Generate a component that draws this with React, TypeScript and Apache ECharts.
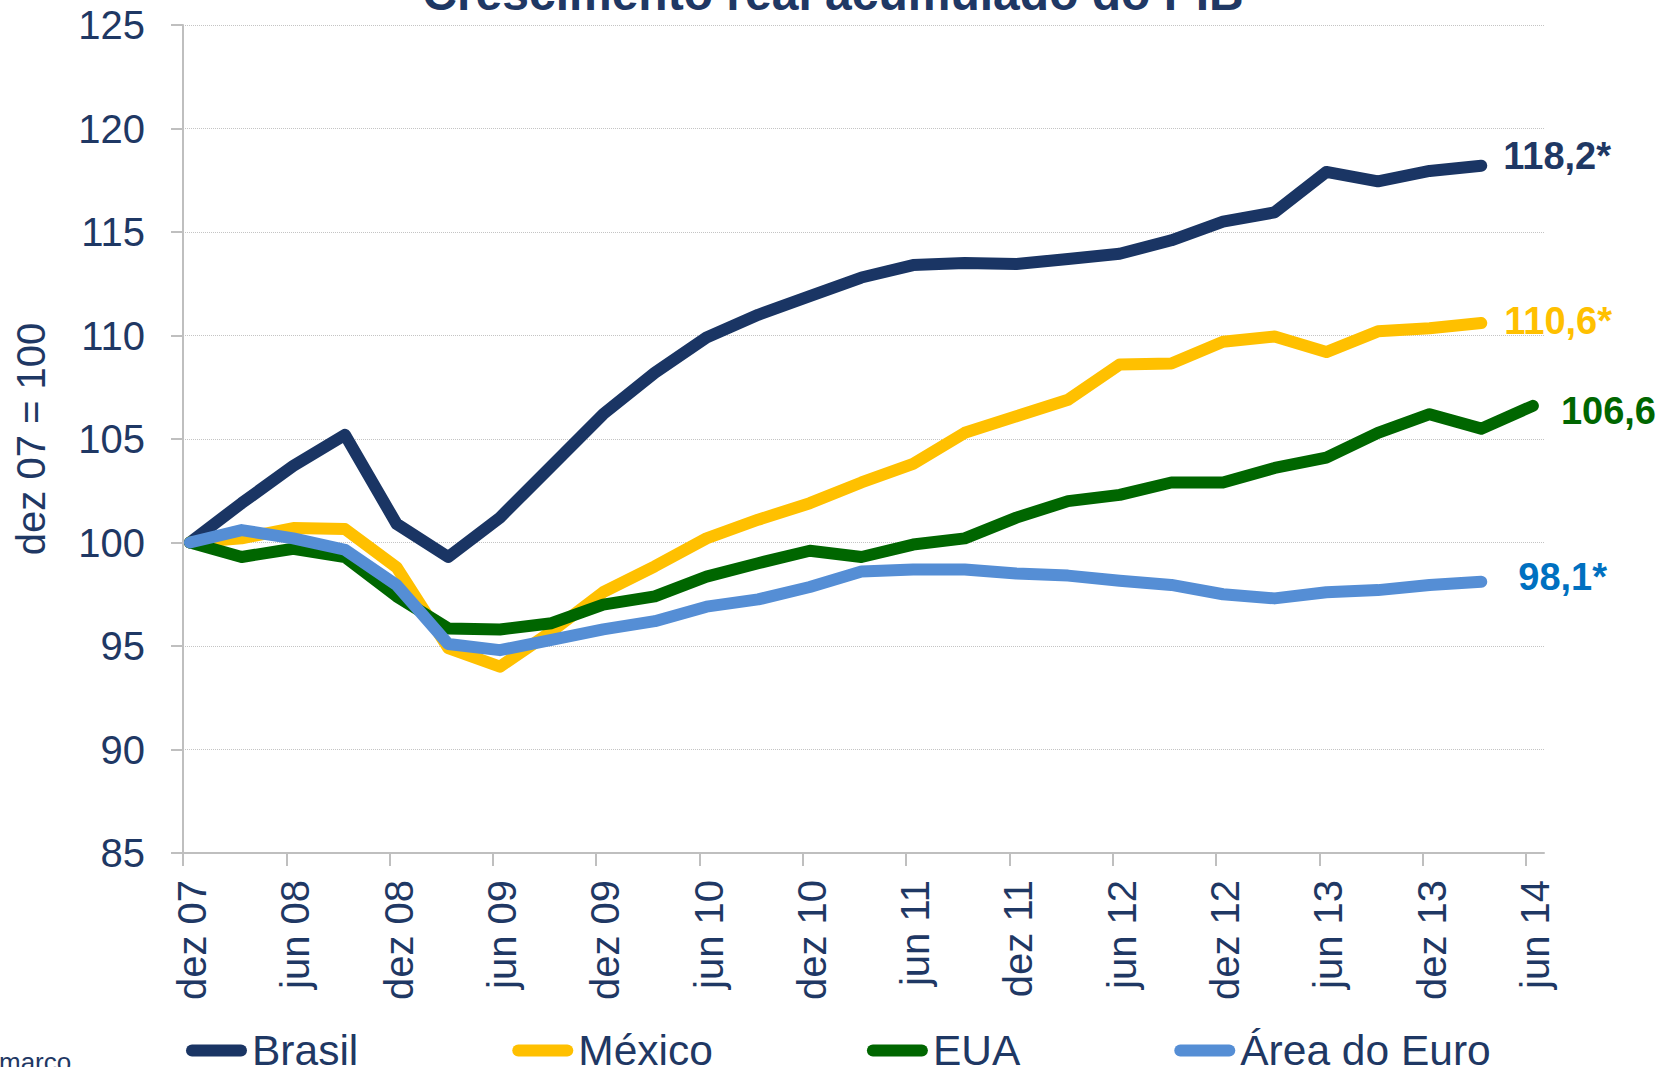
import React, { useEffect, useRef } from 'react';
import * as echarts from 'echarts';

const TICK_LABELS = ['dez 07', 'jun 08', 'dez 08', 'jun 09', 'dez 09', 'jun 10', 'dez 10', 'jun 11', 'dez 11', 'jun 12', 'dez 12', 'jun 13', 'dez 13', 'jun 14'];
const SERIES_NAMES = ['Brasil', 'México', 'EUA', 'Área do Euro'];
const END_LABELS = ['118,2*', '110,6*', '106,6', '98,1*'];

// quarterly values, dez 07 = 100
const brasil = [100, 101.9, 103.7, 105.2, 100.9, 99.3, 101.2, 103.7, 106.2, 108.2, 109.9, 111.0, 111.9, 112.8, 113.4, 113.5, 113.45, 113.7, 113.95, 114.6, 115.5, 115.95, 117.9, 117.45, 117.95, 118.2];
const mexico = [100, 100.2, 100.7, 100.65, 98.8, 94.9, 94.0, 95.7, 97.6, 98.85, 100.2, 101.1, 101.9, 102.9, 103.8, 105.3, 106.1, 106.9, 108.6, 108.65, 109.7, 109.95, 109.2, 110.2, 110.35, 110.6];
const eua = [100, 99.3, 99.7, 99.3, 97.4, 95.85, 95.8, 96.1, 97.0, 97.4, 98.35, 99.0, 99.6, 99.3, 99.9, 100.2, 101.2, 102.0, 102.3, 102.9, 102.9, 103.6, 104.1, 105.3, 106.2, 105.5, 106.6];
const euro = [100, 100.6, 100.2, 99.65, 97.95, 95.1, 94.8, 95.3, 95.8, 96.2, 96.9, 97.25, 97.85, 98.6, 98.7, 98.7, 98.5, 98.4, 98.15, 97.95, 97.5, 97.3, 97.6, 97.7, 97.95, 98.1];

const FONT = "'Liberation Sans', Arial, sans-serif";
const NAVY = '#1F3864';
const AXIS_GRAY = '#BFBFBF';

export default function App() {
  const ref = useRef<HTMLDivElement>(null);

  useEffect(() => {
    if (!ref.current) return;
    const chart = echarts.init(ref.current, null, { renderer: 'svg' });
    const OFFSET = 0.135;
    const tickValues = TICK_LABELS.map((_, k) => 2 * k - OFFSET);
    const seriesData = [brasil, mexico, eua, euro];
    const lineColors = ['#1A3564', '#FFC000', '#006600', '#558ED5'];
    const labelColors = ['#1F3864', '#FFC000', '#006600', '#0070C0'];
    const labelDistance = [22, 23, 28, 37];
    const labelDy = [-10, -2, 5, -5];

    chart.setOption({
      animation: false,
      textStyle: { fontFamily: FONT },
      grid: { left: 183, right: 125, top: 25, bottom: 214, containLabel: false },
      xAxis: {
        type: 'value',
        min: -OFFSET,
        max: 26.215,
        axisLine: { onZero: false, lineStyle: { color: AXIS_GRAY, width: 2 } },
        axisTick: { show: true, length: 13, customValues: tickValues, lineStyle: { color: AXIS_GRAY, width: 2 } },
        axisLabel: {
          customValues: tickValues,
          rotate: 90,
          margin: 27,
          fontSize: 40,
          color: NAVY,
          fontFamily: FONT,
          verticalAlign: 'top',
          lineHeight: 18,
          formatter: (v: number) => TICK_LABELS[Math.round((v + OFFSET) / 2)] ?? '',
        },
        splitLine: { show: false },
      },
      yAxis: {
        type: 'value',
        min: 85,
        max: 125,
        interval: 5,
        name: 'dez 07 = 100',
        nameLocation: 'middle',
        nameGap: 132,
        nameRotate: 90,
        nameTextStyle: { fontSize: 40, color: NAVY, fontFamily: FONT },
        axisLine: { show: true, onZero: false, lineStyle: { color: AXIS_GRAY, width: 2 } },
        axisTick: { show: true, length: 12, lineStyle: { color: AXIS_GRAY, width: 2 } },
        axisLabel: { margin: 38, fontSize: 40, color: NAVY, fontFamily: FONT },
        splitLine: { show: true, lineStyle: { color: '#C4C4C4', type: 'dotted', width: 1 } },
      },
      legend: {
        data: SERIES_NAMES,
        left: 181,
        top: 1024,
        itemGap: 154,
        itemWidth: 61,
        itemHeight: 12,
        icon: 'path://M6,0L55,0A6,6,0,0,1,55,12L6,12A6,6,0,0,1,6,0Z',
        textStyle: { fontSize: 42.5, color: NAVY, fontFamily: FONT },
      },
      graphic: [
        {
          type: 'text',
          x: 833,
          y: -7,
          style: {
            text: 'Crescimento real acumulado do PIB',
            fontSize: 48,
            fontWeight: 'bold',
            fontFamily: FONT,
            fill: NAVY,
            align: 'center',
            verticalAlign: 'middle',
          },
        },
        {
          type: 'text',
          x: -1,
          y: 1062,
          style: {
            text: 'marco',
            fontSize: 26,
            fontFamily: FONT,
            fill: NAVY,
            align: 'left',
            verticalAlign: 'middle',
          },
        },
      ],
      series: SERIES_NAMES.map((name, s) => ({
        name,
        type: 'line',
        data: seriesData[s].map((v, i) => [i, v]),
        showSymbol: false,
        symbol: 'none',
        lineStyle: { color: lineColors[s], width: 12, cap: 'round', join: 'round' },
        itemStyle: { color: lineColors[s] },
        endLabel: {
          show: true,
          formatter: END_LABELS[s],
          color: labelColors[s],
          fontSize: 38,
          fontWeight: 'bold',
          fontFamily: FONT,
          distance: labelDistance[s],
          offset: [0, labelDy[s]],
        },
      })),
    });

    return () => chart.dispose();
  }, []);

  return (
    <div
      ref={ref}
      style={{ position: 'fixed', left: 0, top: 0, width: 1669, height: 1067, background: '#fff' }}
    />
  );
}
